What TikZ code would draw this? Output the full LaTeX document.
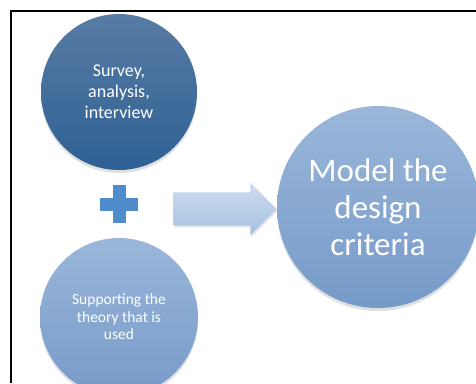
\documentclass[tikz,border=0pt]{standalone}
\usepackage{fontspec}
\setmainfont{Carlito}
\usetikzlibrary{shapes.arrows,shadows}
\definecolor{darkblue}{RGB}{88,124,164}
\definecolor{darkblueb}{RGB}{46,96,148}
\definecolor{lightblue}{RGB}{154,183,218}
\definecolor{lightblueb}{RGB}{118,154,200}
\definecolor{arrowtop}{RGB}{204,219,238}
\definecolor{arrowbot}{RGB}{168,194,226}
\definecolor{plusblue}{RGB}{78,140,204}
\begin{document}
\begin{tikzpicture}[x=1pt,y=-1pt,
    bubble/.style={circle, inner sep=0pt, text=white, align=center,
      drop shadow={opacity=0.25, shadow xshift=0pt, shadow yshift=-3pt}},
    darkbubble/.style={bubble, top color=darkblue, bottom color=darkblueb},
    lightbubble/.style={bubble, top color=lightblue, bottom color=lightblueb}]
    \useasboundingbox (0,0) rectangle (476,383);
    \fill[white] (0,0) rectangle (476,383);
    \draw[line width=1.5pt] (11,383) -- (11,11) -- (477,11);
    \node[darkbubble, minimum size=156pt, font=\fontsize{18}{21}\selectfont] (survey) at (119,92) {Survey,\\analysis,\\interview};
    \node[lightbubble, minimum size=158pt, font=\fontsize{15.5}{17.5}\selectfont] (theory) at (119,317) {Supporting the\\theory that is\\used};
    \node[lightbubble, minimum size=202pt, font=\fontsize{33}{37}\selectfont] (model) at (378,207) {Model the\\design\\criteria};
    % plus sign between the two inputs
    \fill[plusblue] (113,185) rectangle (126,223);
    \fill[plusblue] (100,198) rectangle (138,211);
    \coordinate (plus) at (119,204);
    % block arrow into the model
    \node[single arrow, anchor=east, minimum height=103pt, minimum width=52pt,
      single arrow head extend=9.5pt, single arrow tip angle=90,
      inner xsep=0pt, inner ysep=16.5pt,
      top color=arrowtop, bottom color=arrowbot,
      drop shadow={opacity=0.2, shadow xshift=1pt, shadow yshift=-2pt}] (arr) at ([yshift=-2pt]model.west) {};
\end{tikzpicture}
\end{document}
